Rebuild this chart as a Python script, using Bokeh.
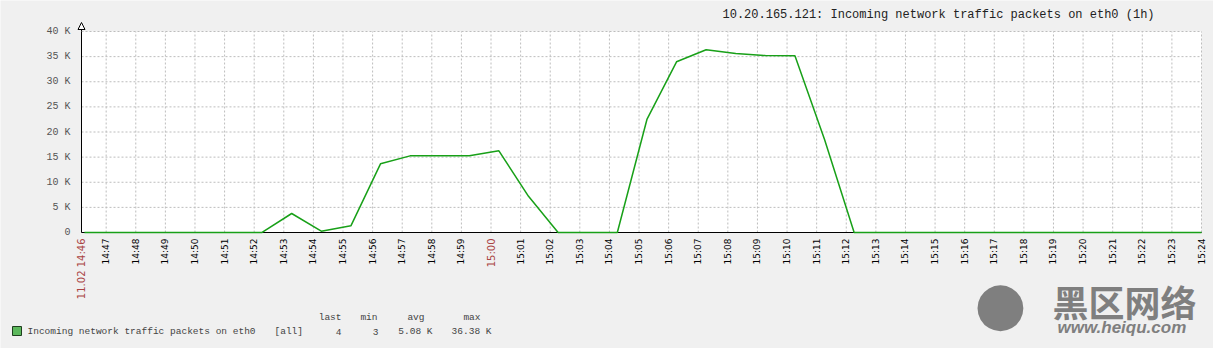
import math
from bokeh.plotting import figure
from bokeh.models import (Range1d, FixedTicker, Label, BoxAnnotation, Arrow, NormalHead,
                          LinearAxis)
from bokeh.embed import file_html
from bokeh.resources import INLINE

# ---------------- data ----------------
title_text = "10.20.165.121: Incoming network traffic packets on eth0 (1h)"
series_name = "Incoming network traffic packets on eth0"
series_func = "[all]"

sample_times = [
    "14:46:16", "14:47:16", "14:48:16", "14:49:16", "14:50:16", "14:51:16",
    "14:52:16", "14:53:16", "14:54:16", "14:55:16", "14:56:16", "14:57:16",
    "14:58:16", "14:59:16", "15:00:16", "15:01:16", "15:02:16", "15:03:16",
    "15:04:16", "15:05:16", "15:06:16", "15:07:16", "15:08:16", "15:09:16",
    "15:10:16", "15:11:16", "15:12:16", "15:13:16", "15:14:16", "15:15:16",
    "15:16:16", "15:17:16", "15:18:16", "15:19:16", "15:20:16", "15:21:16",
    "15:22:16", "15:23:16", "15:24:00",
]
packets = [
    4, 3, 5, 4, 3, 4,
    5, 3780, 260, 1330, 13670, 15250,
    15260, 15270, 16260, 7200, 5, 4,
    3, 22500, 33970, 36380, 35600, 35200,
    35160, 18500, 4, 3, 4, 5,
    4, 3, 4, 5, 4, 3,
    4, 5, 4,
]

tick_labels = [
    "14:47", "14:48", "14:49", "14:50", "14:51", "14:52", "14:53", "14:54",
    "14:55", "14:56", "14:57", "14:58", "14:59", "15:00", "15:01", "15:02",
    "15:03", "15:04", "15:05", "15:06", "15:07", "15:08", "15:09", "15:10",
    "15:11", "15:12", "15:13", "15:14", "15:15", "15:16", "15:17", "15:18",
    "15:19", "15:20", "15:21", "15:22", "15:23", "15:24",
]
red_tick_times = ["14:46:10", "15:00:00"]
red_tick_labels = ["11.02 14:46", "15:00"]

view_start = "14:46:10"
view_end = "15:24:00"

y_ticks = [0, 5000, 10000, 15000, 20000, 25000, 30000, 35000, 40000]
y_tick_labels = ["0", "5 K", "10 K", "15 K", "20 K", "25 K", "30 K", "35 K", "40 K"]

stat_headers = ["last", "min", "avg", "max"]
stat_values = ["4", "3", "5.08 K", "36.38 K"]

watermark_cn = "黑区网络"
watermark_url = "www.heiqu.com"

# ---------------- helpers ----------------
BASE = (14 * 60 + 46) * 60


def seconds(t):
    parts = [int(v) for v in t.split(":")]
    if len(parts) == 2:
        parts.append(0)
    h, m, s = parts
    return h * 3600 + m * 60 + s - BASE


W, H = 1213, 348
FL, FT, FR, FB = 81, 31, 1201, 232   # chart area edges in canvas pixels

x0, x1 = seconds(view_start), seconds(view_end)
ymin, ymax = y_ticks[0], y_ticks[-1]
ppx = (FR - FL) / (x1 - x0)
ppy = (FB - FT) / (ymax - ymin)
xr = Range1d(x0 - FL / ppx, x1 + (W - FR) / ppx)
yr = Range1d(ymin - (H - FB) / ppy, ymax + FT / ppy)


def at(cx, cy):
    # canvas pixel (from top-left) -> screen units of the full-canvas frame
    return dict(x=cx, y=H - cy, x_units="screen", y_units="screen")


xs = [seconds(t) for t in sample_times]
tick_vals = [seconds(t) for t in tick_labels]
red_vals = [seconds(t) for t in red_tick_times]

p = figure(width=W, height=H, output_backend="svg", toolbar_location=None,
           x_range=xr, y_range=yr, x_axis_type=None, y_axis_type=None,
           min_border=0, title=None)
p.background_fill_color = "#f0f0f0"
p.border_fill_color = "#f0f0f0"
p.outline_line_color = None
p.xgrid.visible = False
p.ygrid.visible = False

# white chart area
p.add_layout(BoxAnnotation(left=x0, right=x1, bottom=ymin, top=ymax,
                           fill_color="white", fill_alpha=1.0, line_color=None,
                           level="image"))

# dashed grid lines
grid_style = dict(line_color="#bdbdbd", line_dash="2 2", line_width=1)
p.segment(x0=tick_vals, y0=[ymin] * len(tick_vals), x1=tick_vals,
          y1=[ymax] * len(tick_vals), **grid_style)
p.segment(x0=[x0] * len(y_ticks), y0=y_ticks, x1=[x1] * len(y_ticks), y1=y_ticks,
          **grid_style)

# x axis (black minute labels)
xa = LinearAxis(fixed_location=ymin, bounds=(x0, x1),
                ticker=FixedTicker(ticks=tick_vals, minor_ticks=[]))
xa.major_label_overrides = {v: ("" if lab in red_tick_labels else lab)
                            for v, lab in zip(tick_vals, tick_labels)}
xa.major_label_orientation = math.pi / 2
xa.major_label_standoff = 6
xa.major_tick_out = 0
xa.major_tick_in = 0
xa.minor_tick_line_color = None
xa.axis_line_color = "black"
xa.major_label_text_font = "DejaVu Sans"
xa.major_label_text_font_size = "9px"
xa.major_label_text_color = "black"
p.add_layout(xa, "below")

# red labels (date start, full hour)
ra = LinearAxis(fixed_location=ymin, bounds=(x0, x1),
                ticker=FixedTicker(ticks=red_vals, minor_ticks=[]))
ra.major_label_overrides = {v: lab for v, lab in zip(red_vals, red_tick_labels)}
ra.major_label_orientation = math.pi / 2
ra.major_label_standoff = 6
ra.major_tick_out = 0
ra.major_tick_in = 0
ra.minor_tick_line_color = None
ra.axis_line_color = None
ra.major_label_text_font = "DejaVu Sans"
ra.major_label_text_font_size = "10px"
ra.major_label_text_color = "#aa4444"
p.add_layout(ra, "below")

# y axis
ya = LinearAxis(fixed_location=x0, bounds=(ymin, ymax),
                ticker=FixedTicker(ticks=y_ticks, minor_ticks=[]))
ya.major_label_overrides = {v: lab for v, lab in zip(y_ticks, y_tick_labels)}
ya.major_label_standoff = 11
ya.major_tick_out = 0
ya.major_tick_in = 0
ya.minor_tick_line_color = None
ya.axis_line_color = "black"
ya.major_label_text_font = "Liberation Mono"
ya.major_label_text_font_size = "10px"
ya.major_label_text_color = "#555555"
p.add_layout(ya, "left")

# series line (drawn over the zero axis line like the original)
p.line(xs, packets, line_color="#18a018", line_width=1.5, level="overlay")

# arrow at top of y axis
p.add_layout(Arrow(end=NormalHead(size=7, fill_color="white", line_color="black",
                                  line_width=1),
                   x_start=x0, y_start=ymax, x_end=x0,
                   y_end=ymax + 9 / ppy, line_color="black", line_width=1))

# title
p.add_layout(Label(text=title_text, text_align="left", text_baseline="middle",
                   text_font="Liberation Mono", text_font_size="12px",
                   text_color="#222222", **at(722, 14)))

# legend
p.add_layout(BoxAnnotation(left=12, right=21, top=H - 326, bottom=H - 335,
                           left_units="screen", right_units="screen",
                           top_units="screen", bottom_units="screen",
                           fill_color="#5cb85c", fill_alpha=1.0,
                           line_color="#1f3f1f", line_width=1, line_alpha=1.0))
legend_font = dict(text_font="Liberation Mono", text_font_size="9.5px",
                   text_color="#444444", text_baseline="middle")
p.add_layout(Label(text=series_name, text_align="left", **legend_font, **at(27, 331)))
p.add_layout(Label(text=series_func, text_align="left", **legend_font, **at(274, 331)))
header_right = [341, 377, 424, 480]
value_right = [341, 378, 432, 491]
for h_txt, v_txt, hx, vx in zip(stat_headers, stat_values, header_right, value_right):
    p.add_layout(Label(text=h_txt, text_align="right", **legend_font, **at(hx, 317)))
    p.add_layout(Label(text=v_txt, text_align="right", **legend_font, **at(vx, 331)))

# watermark
p.add_layout(Label(text="●", text_align="center", text_baseline="middle",
                   text_font="DejaVu Sans", text_font_size="60px", text_color="#7f7f7f",
                   **at(1000, 302)))
p.add_layout(Label(text=watermark_cn, text_align="left", text_baseline="middle",
                   text_font="Noto Sans CJK SC", text_font_size="36px",
                   text_font_style="bold", text_color="#7f7f7f", **at(1052, 300)))
p.add_layout(Label(text=watermark_url, text_align="left", text_baseline="middle",
                   text_font="Liberation Sans", text_font_size="17px",
                   text_font_style="bold italic", text_color="#7f7f7f", **at(1057, 327)))

open("out.html", "w").write(file_html(p, INLINE))
